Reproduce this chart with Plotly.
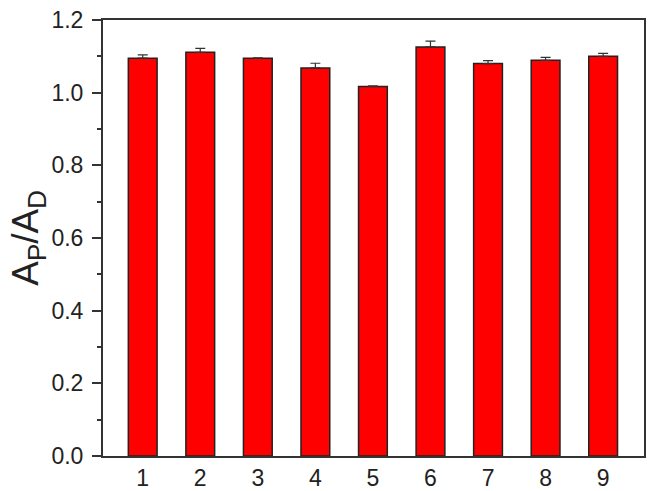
import plotly.graph_objects as go

categories = [1, 2, 3, 4, 5, 6, 7, 8, 9]
values = [1.095, 1.111, 1.095, 1.068, 1.017, 1.126, 1.080, 1.089, 1.100]
errors = [0.009, 0.011, 0.001, 0.013, 0.002, 0.016, 0.008, 0.008, 0.008]
y_ticks = [0.0, 0.2, 0.4, 0.6, 0.8, 1.0, 1.2]
y_tick_labels = ["0.0", "0.2", "0.4", "0.6", "0.8", "1.0", "1.2"]

fig = go.Figure()
fig.add_trace(go.Bar(
    x=categories, y=values, width=0.5,
    marker=dict(color="#ff0000", line=dict(color="#222222", width=1.5)),
    error_y=dict(type="data", symmetric=False, array=errors,
                 arrayminus=[0] * len(errors), visible=True, color="#333333",
                 thickness=1.2, width=5),
))

axis_font = dict(family="Liberation Sans, Arial, sans-serif", size=23, color="#222222")
fig.update_layout(
    width=650, height=491,
    margin=dict(l=103, r=6, t=20, b=35, autoexpand=False),
    paper_bgcolor="white", plot_bgcolor="white",
    showlegend=False,
    xaxis=dict(
        range=[0.31, 9.71], tickmode="array", tickvals=categories,
        ticktext=[str(c) for c in categories], automargin=False,
        showline=True, linecolor="#333333", linewidth=2, mirror=True,
        ticks="", showgrid=False, zeroline=False, tickfont=axis_font,
    ),
    yaxis=dict(
        range=[0, 1.2], tickmode="array", tickvals=y_ticks, ticktext=y_tick_labels,
        automargin=False, ticklabelstandoff=4,
        showline=True, linecolor="#333333", linewidth=2, mirror=True,
        ticks="outside", ticklen=9, tickwidth=1.5, tickcolor="#333333",
        minor=dict(ticks="outside", ticklen=4, tickwidth=1.5, tickcolor="#333333", dtick=0.1),
        showgrid=False, zeroline=False, tickfont=axis_font,
    ),
    annotations=[dict(
        text="A<sub>P</sub>/A<sub>D</sub>", xref="paper", yref="paper",
        x=-0.139, y=0.5, xanchor="center", yanchor="middle", textangle=-90,
        showarrow=False,
        font=dict(family="Liberation Sans, Arial, sans-serif", size=37, color="#222222"),
    )],
)
fig.write_html("out.html", config={"displayModeBar": False},
               post_script="document.body.style.margin='0';")
